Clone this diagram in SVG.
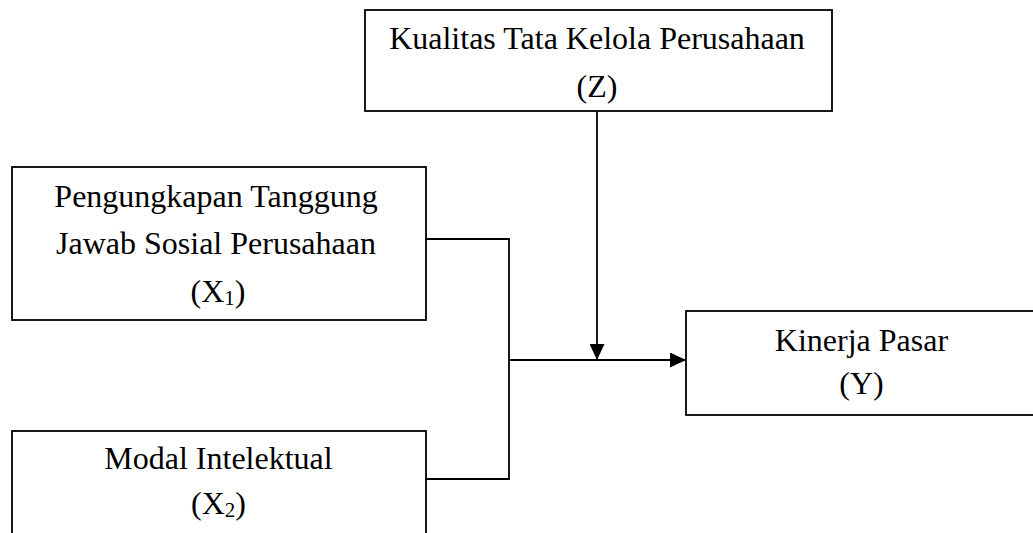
<svg xmlns="http://www.w3.org/2000/svg" width="1033" height="533" viewBox="0 0 1033 533">
<defs>
<style>
.box{fill:#fff;stroke:#000;stroke-width:1.8}
.t{font-family:"Liberation Serif","Times New Roman",serif;font-size:32px;fill:#000;text-anchor:middle}
.sub{font-size:21px}
.c{fill:none;stroke:#000;stroke-width:1.8}
</style>
<marker id="ah" markerWidth="16" markerHeight="15" refX="16" refY="7.5" orient="auto" markerUnits="userSpaceOnUse">
<path d="M0,0 L16,7.5 L0,15 Z" fill="#000"/>
</marker>
</defs>
<g id="connectors">
<path class="c" d="M426,239 H509 V479 H426"/>
<path class="c" d="M509,360 H686" marker-end="url(#ah)"/>
<path class="c" d="M597,111 V360" marker-end="url(#ah)"/>
</g>
<g id="nodeZ">
<rect class="box" x="365" y="10" width="467" height="101"/>
<text class="t" x="597" y="49">Kualitas Tata Kelola Perusahaan</text>
<text class="t" x="597" y="97">(Z)</text>
</g>
<g id="nodeX1">
<rect class="box" x="12" y="167" width="414" height="153"/>
<text class="t" x="216" y="207">Pengungkapan Tanggung</text>
<text class="t" x="216" y="254">Jawab Sosial Perusahaan</text>
<text class="t" x="218" y="302">(X<tspan class="sub" dy="3">1</tspan><tspan dy="-3">)</tspan></text>
</g>
<g id="nodeX2">
<rect class="box" x="12" y="431" width="414" height="112"/>
<text class="t" x="218.5" y="469">Modal Intelektual</text>
<text class="t" x="218.5" y="514">(X<tspan class="sub" dy="3">2</tspan><tspan dy="-3">)</tspan></text>
</g>
<g id="nodeY">
<rect class="box" x="686" y="311" width="352" height="104"/>
<text class="t" x="861.5" y="351">Kinerja Pasar</text>
<text class="t" x="861.5" y="394">(Y)</text>
</g>
</svg>
